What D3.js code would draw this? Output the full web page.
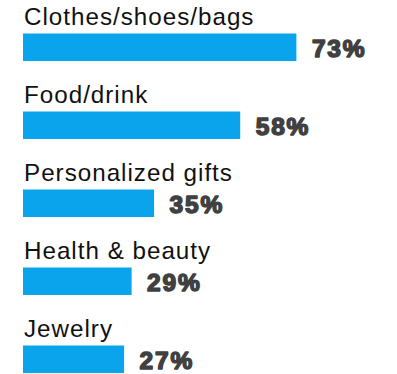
<!DOCTYPE html>
<html>
<head>
<meta charset="utf-8">
<script src="https://cdn.jsdelivr.net/npm/d3@7"></script>
<style>
  html, body { margin: 0; padding: 0; background: #fff; }
  svg { display: block; }
</style>
</head>
<body>
<svg id="chart" width="397" height="374"></svg>
<script>
// Share of respondents by gift category
const categories = ["Clothes/shoes/bags", "Food/drink", "Personalized gifts", "Health & beauty", "Jewelry"];
const values = [73, 58, 35, 29, 27];
const valueLabels = ["73%", "58%", "35%", "29%", "27%"];

const width = 397, height = 374;
const barHeight = 27.5;

const svg = d3.select("#chart");

const x = d3.scaleLinear().domain([0, 100]).range([23, 397.5]);
// one 78px row per category: label on top, bar below it
const y = d3.scaleBand().domain(categories).range([0, 390]);
const barTop = d => y(d) + 33.5;

const rows = svg.selectAll("g.row")
  .data(categories.map((c, i) => ({ c, v: values[i], t: valueLabels[i] })))
  .join("g")
  .attr("class", "row");

rows.append("rect")
  .attr("x", x(0))
  .attr("y", d => barTop(d.c))
  .attr("width", d => x(d.v) - x(0))
  .attr("height", barHeight)
  .attr("fill", "#09a4eb");

rows.append("text")
  .attr("x", x(0) + 1)
  .attr("y", d => barTop(d.c) - 8.5)
  .attr("font-family", "'Liberation Sans', Arial, sans-serif")
  .attr("font-size", 24.2)
  .attr("letter-spacing", 1.0)
  .attr("fill", "#111")
  .text(d => d.c);

rows.append("text")
  .attr("x", d => x(d.v) + 15.5)
  .attr("y", d => barTop(d.c) + barHeight - 4.5)
  .attr("font-family", "'Liberation Sans', Arial, sans-serif")
  .attr("font-weight", 700)
  .attr("font-size", 24.5)
  .attr("fill", "#404040")
  .attr("stroke", "#404040")
  .attr("stroke-width", 1.5)
  .attr("stroke-linejoin", "round")
  .attr("letter-spacing", 1.8)
  .text(d => d.t);
</script>
</body>
</html>
